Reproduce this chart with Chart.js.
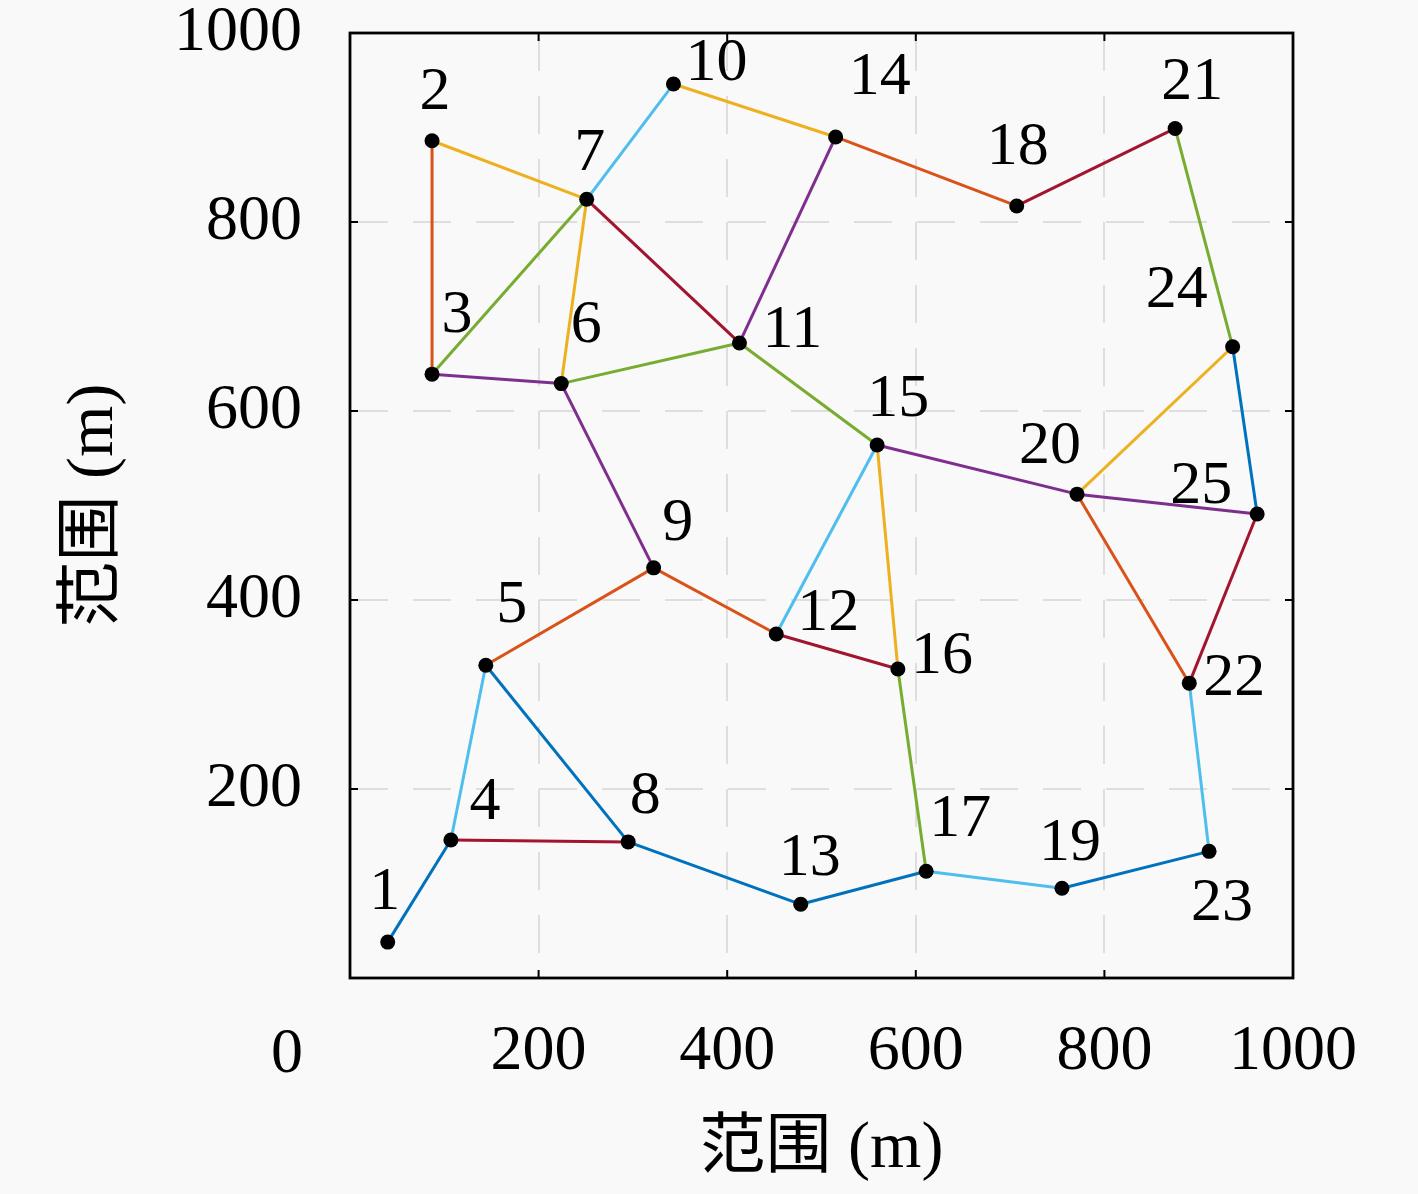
<!DOCTYPE html>
<html>
<head>
<meta charset="utf-8">
<script src="https://cdn.jsdelivr.net/npm/chart.js@4.4.1/dist/chart.umd.min.js"></script>
<style>
  html, body { margin: 0; padding: 0; background: #f9f9f9; }
  #wrap { width: 1418px; height: 1194px; position: relative; }
</style>
</head>
<body>
<div id="wrap"><canvas id="c"></canvas></div>
<script>
// ---- data ----
const nodeLabels = ['1','2','3','4','5','6','7','8','9','10','11','12','13','14','15','16','17','18','19','20','21','22','23','24','25'];
const nodeX = [40, 87, 87, 107, 144, 224, 251, 295, 322, 343, 413, 452, 478, 515, 559, 581, 611, 707, 755, 771, 875, 890, 911, 936, 962];
const nodeY = [38, 886, 639, 146, 331, 629, 824, 144, 434, 946, 672, 364, 78, 890, 564, 327, 113, 817, 95, 512, 899, 312, 134, 668, 491];
const edgeFrom = [1,5,8,13,19,24, 2,5,9,14,20, 2,7,10,15,20, 3,6,11,15,20, 3,6,11,16,21, 4,7,12,17,22, 4,7,12,18,22];
const edgeTo   = [4,8,13,17,23,25, 3,9,12,18,22, 7,6,14,16,24, 6,9,14,20,25, 7,11,15,17,24, 5,10,15,19,23, 8,11,16,21,25];
const edgeGroup= [0,0,0,0,0,0, 1,1,1,1,1, 2,2,2,2,2, 3,3,3,3,3, 4,4,4,4,4, 5,5,5,5,5, 6,6,6,6,6];
const xTicks = [0, 200, 400, 600, 800, 1000];
const yTicks = [0, 200, 400, 600, 800, 1000];
const axisTitle = '范围 (m)';

// ---- styles ----
const palette = ['#0072BD', '#D95319', '#EDB120', '#7E2F8E', '#77AC30', '#4DBEEE', '#A2142F'];
const labelOffsets = [[-3,-49],[3,-48],[25,-58],[34,-37],[26,-59],[25,-58],[3,-46],[17,-45],[24,-44],[43,-20],
  [53,-12],[52,-20],[9,-46],[44,-59],[21,-45],[44,-12],[34,-51],[1,-58],[8,-45],[-27,-47],
  [17,-46],[45,-4],[13,52],[-56,-56],[-56,-27]];
const SERIF = "'Liberation Serif', 'Noto Sans CJK SC', serif";
const TITLE_FONT = "66px 'Liberation Serif', 'Noto Sans CJK SC', serif";

const datasets = [];
for (let i = 0; i < edgeFrom.length; i++) {
  const a = edgeFrom[i] - 1, b = edgeTo[i] - 1;
  datasets.push({
    data: [{x: nodeX[a], y: nodeY[a]}, {x: nodeX[b], y: nodeY[b]}],
    showLine: true,
    borderColor: palette[edgeGroup[i]],
    borderWidth: 3,
    pointRadius: 0,
    order: 2
  });
}
datasets.push({
  data: nodeX.map((x, i) => ({x: x, y: nodeY[i]})),
  showLine: false,
  pointRadius: 7.5,
  pointBackgroundColor: '#000',
  pointBorderWidth: 0,
  order: 1
});

const decor = {
  id: 'decor',
  beforeDraw(chart) {
    const c = chart.ctx;
    c.save();
    c.fillStyle = '#f9f9f9';
    c.fillRect(0, 0, chart.width, chart.height);
    c.restore();
  },
  beforeDatasetsDraw(chart) {
    const c = chart.ctx, a = chart.chartArea;
    const xs = chart.scales.x, ys = chart.scales.y;
    c.save();
    c.strokeStyle = '#000';
    c.lineWidth = 2;
    c.beginPath();
    xTicks.forEach(v => {
      const px = xs.getPixelForValue(v);
      c.moveTo(px, a.bottom); c.lineTo(px, a.bottom - 8);
      c.moveTo(px, a.top); c.lineTo(px, a.top + 8);
    });
    yTicks.forEach(v => {
      const py = ys.getPixelForValue(v);
      c.moveTo(a.left, py); c.lineTo(a.left + 8, py);
      c.moveTo(a.right, py); c.lineTo(a.right - 8, py);
    });
    c.stroke();
    c.lineWidth = 2.8;
    c.strokeRect(a.left, a.top, a.right - a.left, a.bottom - a.top);
    c.restore();
  },
  afterDatasetsDraw(chart) {
    const c = chart.ctx, a = chart.chartArea;
    const xs = chart.scales.x, ys = chart.scales.y;
    c.save();
    c.fillStyle = '#000';
    c.textAlign = 'center';
    c.textBaseline = 'middle';
    c.font = '62px ' + SERIF;
    nodeLabels.forEach((t, i) => {
      const px = xs.getPixelForValue(nodeX[i]) + labelOffsets[i][0];
      const py = ys.getPixelForValue(nodeY[i]) + labelOffsets[i][1];
      c.fillText(t, px, py);
    });
    // origin label
    c.font = '64px ' + SERIF;
    c.fillText('0', xs.getPixelForValue(0) - 63, a.bottom + 77);
    // axis titles
    c.font = TITLE_FONT;
    c.fillText(axisTitle, (a.left + a.right) / 2, a.bottom + 172);
    c.translate(95, (a.top + a.bottom) / 2);
    c.rotate(-Math.PI / 2);
    c.fillText(axisTitle, 0, 0);
    c.restore();
  }
};

new Chart(document.getElementById('c'), {
  type: 'scatter',
  data: { datasets: datasets },
  plugins: [decor],
  options: {
    responsive: true,
    maintainAspectRatio: false,
    animation: false,
    layout: { padding: { top: 33, right: 125, left: 0, bottom: 0 } },
    plugins: { legend: { display: false }, tooltip: { enabled: false } },
    scales: {
      x: {
        type: 'linear', min: 0, max: 1000,
        afterBuildTicks: s => { s.ticks = xTicks.map(v => ({value: v})); },
        afterFit: s => { s.height = 216; s.paddingLeft = 0; s.paddingRight = 0; },
        ticks: {
          color: '#000', padding: 36,
          font: { family: SERIF, size: 64 },
          maxRotation: 0, autoSkip: false,
          callback: v => (v === 0 ? '' : String(v))
        },
        grid: { color: '#dedede', lineWidth: 2, drawTicks: false },
        border: { display: false, dash: [38, 25] }
      },
      y: {
        type: 'linear', min: 0, max: 1000,
        afterBuildTicks: s => { s.ticks = yTicks.map(v => ({value: v})); },
        afterFit: s => { s.width = 350; s.paddingTop = 0; s.paddingBottom = 0; },
        ticks: {
          color: '#000', padding: 48,
          font: { family: SERIF, size: 64 },
          autoSkip: false,
          callback: v => (v === 0 ? '' : String(v))
        },
        grid: { color: '#dedede', lineWidth: 2, drawTicks: false },
        border: { display: false, dash: [38, 25] }
      }
    }
  }
});
</script>
</body>
</html>
